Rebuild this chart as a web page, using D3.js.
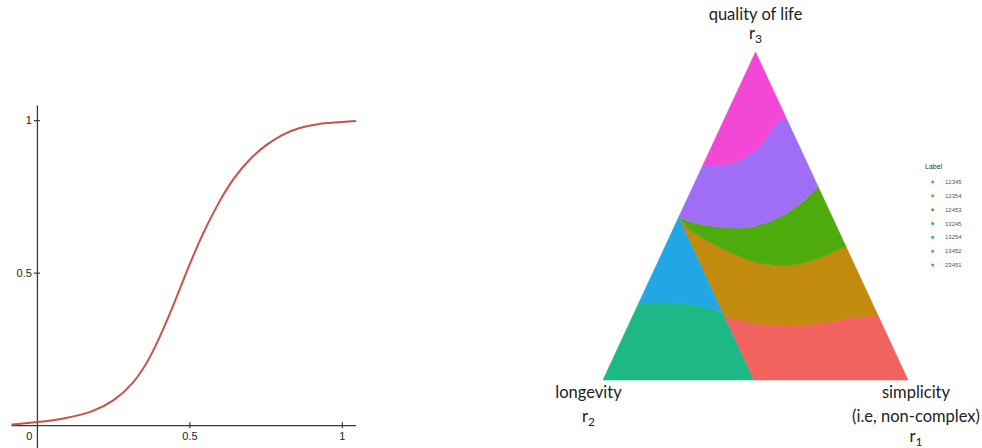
<!DOCTYPE html>
<meta charset="utf-8">
<script src="https://d3js.org/d3.v7.min.js"></script>
<style>
  body { margin: 0; background: #fff; }
</style>
<svg id="chart" width="982" height="448"></svg>
<script>

  // ---- left panel: S-shaped curve
  var curveX = [-0.083, 0.0, 0.097, 0.185, 0.25, 0.316, 0.370, 0.436, 0.491, 0.545, 0.6, 0.643, 0.698, 0.753, 0.807, 0.862, 0.917, 0.970, 1.046]
  var curveY = [0.002, 0.009, 0.022, 0.044, 0.077, 0.135, 0.215, 0.362, 0.505, 0.632, 0.738, 0.808, 0.874, 0.921, 0.955, 0.976, 0.987, 0.992, 0.997]
  var xTicks = [0, 0.5, 1]
  var yTicks = [0.5, 1]

  // ---- right panel: ternary regions, boundaries as [r1, r3] (r2 = 1 - r1 - r3)
  var labels = ["12345", "12354", "12453", "13245", "13254", "13452", "23451"]
  var colors = ["#f26360", "#c38b0d", "#4eab0d", "#1eb886", "#22a6e4", "#a06ef6", "#f347d5"]
  var pinkEdge = [[0, 0.655], [0.055, 0.655], [0.096, 0.661], [0.130, 0.681], [0.158, 0.711], [0.170, 0.752], [0.180, 0.788], [0.20, 0.80]]
  var purpleEdge = [[0, 0.496], [0.043, 0.483], [0.092, 0.473], [0.150, 0.466], [0.206, 0.463], [0.258, 0.467], [0.305, 0.483], [0.347, 0.508], [0.384, 0.544], [0.411, 0.589]]
  var greenEdge = [[0, 0.496], [0.056, 0.457], [0.112, 0.432], [0.181, 0.404], [0.247, 0.381], [0.312, 0.361], [0.371, 0.351], [0.428, 0.348], [0.478, 0.356], [0.525, 0.371], [0.568, 0.396], [0.594, 0.406]]
  var redEdge = [[0.296, 0.198], [0.309, 0.193], [0.406, 0.173], [0.463, 0.168], [0.520, 0.165], [0.572, 0.168], [0.625, 0.173], [0.675, 0.181], [0.725, 0.191], [0.802, 0.198]]
  var blueEdge = [[0, 0.234], [0.068, 0.237], [0.135, 0.234], [0.205, 0.226], [0.253, 0.216], [0.288, 0.206]]
  var diagTop = [0, 0.496]
  var diagBottom = [0.493, 0]

  var svg = d3.select("#chart")

  // ================= left panel =================
  var x = d3.scaleLinear().domain([-0.085, 1.045]).range([11, 355.6])
  var y = d3.scaleLinear().domain([-0.075, 1.05]).range([448, 104.9])

  var xAxis = svg.append("g")
    .attr("transform", "translate(0," + y(0) + ")")
    .call(d3.axisBottom(x).tickValues(xTicks).tickFormat(d3.format("")).tickSizeOuter(0))
  var yAxis = svg.append("g")
    .attr("transform", "translate(" + x(0) + ",0)")
    .call(d3.axisLeft(y).tickValues(yTicks).tickFormat(d3.format("")).tickSizeOuter(0))

  ;[xAxis, yAxis].forEach(function(g) {
    g.select(".domain").attr("stroke", "#3a3a3a").attr("stroke-width", 1.3)
    g.selectAll(".tick line").attr("stroke", "#3a3a3a").attr("stroke-width", 1.2)
    g.selectAll(".tick text")
      .attr("fill", "#222")
      .style("font-family", "'Liberation Sans', Arial, sans-serif")
      .style("font-size", "11px")
  })
  xAxis.selectAll(".tick line").attr("y1", -3).attr("y2", 3)
  xAxis.selectAll(".tick text").attr("y", 7).attr("dy", "0.71em")
  xAxis.selectAll(".tick").filter(function(d) { return d === 0 }).select("text").attr("dx", -8)
  xAxis.selectAll(".tick").filter(function(d) { return d === 0 }).select("line").remove()
  yAxis.selectAll(".tick line").attr("x1", -3).attr("x2", 3)
  yAxis.selectAll(".tick text").attr("x", -5)

  var line = d3.line()
    .x(function(d, i) { return x(curveX[i]) })
    .y(function(d, i) { return y(d) })
    .curve(d3.curveBasis)

  svg.append("path")
    .datum(curveY)
    .attr("d", line)
    .attr("fill", "none")
    .attr("stroke", "#c9504c")
    .attr("stroke-width", 2)

  // ================= right panel (ternary) =================
  var tx = d3.scaleLinear().domain([0, 1]).range([603, 908])   // base, r1
  var ty = d3.scaleLinear().domain([0, 1]).range([380, 52])    // height, r3
  function proj(p) { return [tx(p[0] + p[1] * 0.5), ty(p[1])] }

  var rev = function(a) { return a.slice().reverse() }
  var regions = [
    { label: "12345", pts: redEdge.concat([[1, 0], diagBottom]) },
    { label: "12354", pts: greenEdge.concat(rev(redEdge)) },
    { label: "12453", pts: purpleEdge.concat(rev(greenEdge)) },
    { label: "13245", pts: [[0, 0], diagBottom].concat(rev(blueEdge)) },
    { label: "13254", pts: blueEdge.concat([diagTop]) },
    { label: "13452", pts: pinkEdge.concat(rev(purpleEdge)) },
    { label: "23451", pts: [[0, 1]].concat(pinkEdge) }
  ]
  var color = d3.scaleOrdinal().domain(labels).range(colors)

  svg.append("g").selectAll("path")
    .data(regions)
    .enter()
    .append("path")
      .attr("d", function(d) { return "M" + d.pts.map(proj).join("L") + "Z" })
      .attr("fill", function(d) { return color(d.label) })
      .attr("stroke", function(d) { return color(d.label) })
      .attr("stroke-width", 0.6)
      .attr("stroke-linejoin", "round")

  // corner labels
  var lab = svg.append("g")
    .style("font-family", "Lato, 'Open Sans', sans-serif")
    .style("font-size", "16.5px")
    .attr("fill", "#222")
    .attr("text-anchor", "middle")

  function cornerLabel(cx, lines, rY, sub) {
    lines.forEach(function(t) {
      lab.append("text").attr("x", cx).attr("y", t[1]).text(t[0])
    })
    var r = lab.append("text").attr("x", cx).attr("y", rY)
    r.append("tspan").text("r")
    r.append("tspan").attr("dy", 4).style("font-size", "12px").text(sub)
  }
  cornerLabel(755.5, [["quality of life", 20]], 38.5, "3")
  cornerLabel(588.5, [["longevity", 397.5]], 421.5, "2")
  cornerLabel(916, [["simplicity", 397.5], ["(i.e, non-complex)", 421.5]], 441.5, "1")

  // legend
  var legend = svg.append("g").attr("transform", "translate(925,0)")
  legend.append("text")
    .attr("x", 0).attr("y", 168.5)
    .style("font-family", "'Liberation Sans', Arial, sans-serif")
    .style("font-size", "7px")
    .attr("fill", "#333")
    .text("Label")

  var ly = d3.scaleBand().domain(labels).range([175, 272])
  legend.selectAll("circle")
    .data(labels)
    .enter()
    .append("circle")
      .attr("cx", 7.7)
      .attr("cy", function(d) { return ly(d) + ly.bandwidth() / 2 })
      .attr("r", 1.5)
      .attr("fill", function(d) { return color(d) })
  legend.selectAll("text.key")
    .data(labels)
    .enter()
    .append("text")
      .attr("class", "key")
      .attr("x", 20)
      .attr("y", function(d) { return ly(d) + ly.bandwidth() / 2 })
      .attr("dy", "0.35em")
      .style("font-family", "'Liberation Sans', Arial, sans-serif")
      .style("font-size", "6px")
      .attr("fill", "#555")
      .text(function(d) { return d })

</script>
